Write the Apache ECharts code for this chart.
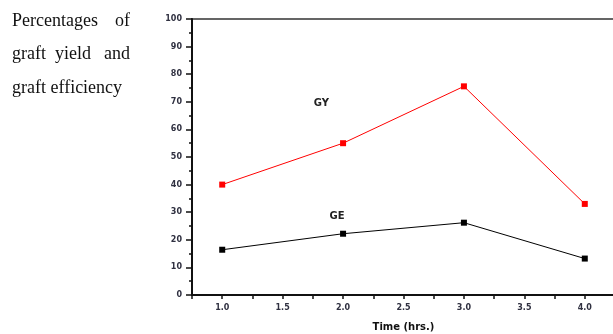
<!DOCTYPE html>
<html>
<head>
<meta charset="utf-8">
<script src="https://cdn.jsdelivr.net/npm/echarts@6/dist/echarts.min.js"></script>
<style>
  html, body { margin: 0; padding: 0; background: #fff; }
  #chart { width: 613px; height: 334px; }
</style>
</head>
<body>
<div id="chart"></div>
<script>
// time in hours
const times = [1.0, 2.0, 3.0, 4.0];
// graft yield (%) and graft efficiency (%)
const gyValues = [40, 55, 75.6, 33];
const geValues = [16.4, 22.2, 26.2, 13.2];
// side caption, word by word so each line can be justified
const sideWords = [
  [['Percentages', 'left'], ['of', 'right']],
  [['graft', 'left'], ['yield', 'mid'], ['and', 'right']],
  [['graft efficiency', 'left']],
];

const chart = echarts.init(document.getElementById('chart'), null, { renderer: 'canvas' });

const sans = 'DejaVu Sans, Verdana, sans-serif';
const tickFont = { fontFamily: sans, fontSize: 8, color: '#2f3040', fontWeight: 'bold' };

function pairs(values) {
  return times.map((t, i) => [t, values[i]]);
}

function lineSeries(name, values, color, labelCoord) {
  return {
    name: name,
    type: 'line',
    data: pairs(values),
    symbol: 'rect',
    symbolSize: 6,
    showSymbol: true,
    lineStyle: { color: color, width: 1 },
    itemStyle: { color: color },
    markPoint: {
      symbol: 'rect',
      symbolSize: 1,
      itemStyle: { color: 'rgba(0,0,0,0)' },
      data: [{ coord: labelCoord, value: name }],
      label: {
        show: true,
        position: 'inside',
        formatter: name,
        fontFamily: sans,
        fontSize: 10,
        fontWeight: 'bold',
        color: '#222',
      },
    },
  };
}

const captionTops = [12, 45, 79];
const captionGraphics = [];
sideWords.forEach((words, i) => {
  words.forEach(([word, place]) => {
    captionGraphics.push({
      type: 'text',
      x: place === 'left' ? 12 : place === 'mid' ? 55 : 130,
      y: captionTops[i],
      style: {
        text: word,
        align: place === 'right' ? 'right' : 'left',
        fontFamily: 'Liberation Serif, Times New Roman, serif',
        fontSize: 18,
        fill: '#111',
      },
    });
  });
});

chart.setOption({
  animation: false,
  grid: {
    // right border falls just past the canvas edge, as in the cropped original
    left: 192, top: 19, right: -2, bottom: 39,
    outerBoundsMode: 'none',
    show: true, borderColor: '#333', borderWidth: 1.5,
  },
  xAxis: {
    type: 'value',
    min: 0.75,
    max: 4.25,
    interval: 0.25,
    splitLine: { show: false },
    axisLine: { show: true, onZero: false, lineStyle: { color: '#111', width: 2 } },
    axisTick: { show: true, inside: false, length: 4, lineStyle: { color: '#111', width: 1.5 } },
    axisLabel: Object.assign({
      margin: 9,
      formatter: (v) => (Math.abs(v * 2 - Math.round(v * 2)) < 1e-6 ? v.toFixed(1) : ''),
    }, tickFont),
    name: 'Time (hrs.)',
    nameLocation: 'middle',
    nameGap: 27,
    nameTextStyle: { fontFamily: sans, fontSize: 10, fontWeight: 'bold', color: '#111' },
  },
  yAxis: {
    type: 'value',
    min: 0,
    max: 100,
    interval: 10,
    splitLine: { show: false },
    axisLine: { show: true, lineStyle: { color: '#111', width: 2 } },
    axisTick: { show: true, length: 6, lineStyle: { color: '#111', width: 1.5 } },
    minorTick: { show: true, splitNumber: 2, length: 3, lineStyle: { color: '#111', width: 1.5 } },
    axisLabel: Object.assign({ margin: 10 }, tickFont),
  },
  series: [
    lineSeries('GY', gyValues, '#ff0000', [1.82, 69.5]),
    lineSeries('GE', geValues, '#000000', [1.95, 28.3]),
  ],
  graphic: captionGraphics,
});
</script>
</body>
</html>
